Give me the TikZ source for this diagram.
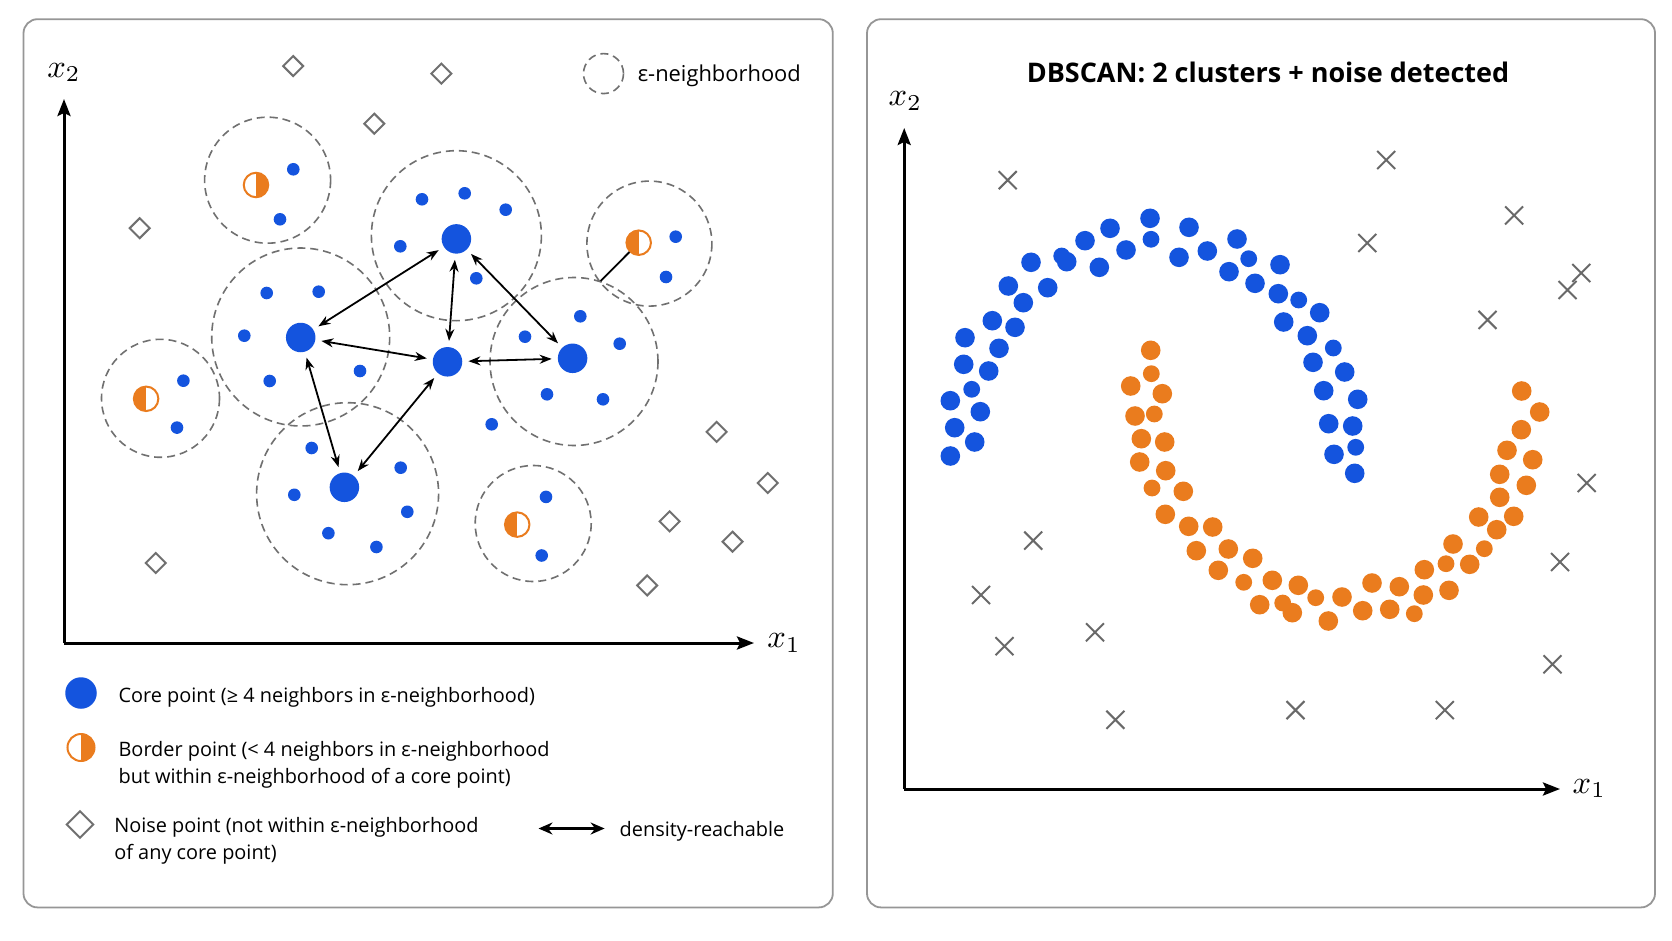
\documentclass[tikz,border=0pt]{standalone}
\usepackage{fontspec}
\setmainfont{Open Sans}
\usetikzlibrary{arrows.meta}
\definecolor{cblue}{RGB}{20,84,222}
\definecolor{corange}{RGB}{234,124,30}
\definecolor{cgray}{RGB}{112,112,112}
\definecolor{xgray}{RGB}{105,105,105}
\definecolor{framec}{RGB}{150,150,150}
\begin{document}
\begin{tikzpicture}[x=1pt,y=-1pt,
  panel/.style={draw=framec, line width=1.8pt, rounded corners=14pt, fill=white},
  axis/.style={line width=3pt, -{Stealth[length=17pt,width=13pt,inset=3pt]}},
  nbhd/.style={draw=cgray, line width=1.6pt, dash pattern=on 8pt off 5pt},
  core/.style={circle, fill=cblue, inner sep=0pt, minimum size=29.5pt},
  bptR/.style={circle, draw=corange, line width=2pt, fill=white, minimum size=24.5pt, inner sep=0pt,
    path picture={\fill[corange] (path picture bounding box.north) rectangle (path picture bounding box.south east);}},
  bptL/.style={circle, draw=corange, line width=2pt, fill=white, minimum size=24.5pt, inner sep=0pt,
    path picture={\fill[corange] (path picture bounding box.north west) rectangle (path picture bounding box.south);}},
  dr/.style={line width=1.8pt, {Stealth[length=12pt,width=9pt]}-{Stealth[length=12pt,width=9pt]}, shorten >=6pt, shorten <=6pt},
  legtext/.style={anchor=west, inner sep=0pt, font=\fontsize{19.9}{27.5}\selectfont, align=left},
  axlabel/.style={inner sep=0pt, font=\fontsize{10}{12}\selectfont, scale=3.25},
  noise/.pic={\draw[cgray, line width=2pt, line join=miter] (-10,0) -- (0,-10) -- (10,0) -- (0,10) -- cycle;},
  xmark/.pic={\draw[xgray, line width=2pt] (-9,-9) -- (9,9) (-9,9) -- (9,-9);}
]
\useasboundingbox (0,0) rectangle (1672,941);

% ---------------- left panel ----------------
\draw[panel] (23.5,19.2) rectangle (832.8,907.4);

% axes
\coordinate (LO) at (64,643);
\coordinate (LY) at (64,99);
\coordinate (LX) at (754,643);
\draw[axis] (LO) -- (LY);
\draw[axis] (LO) -- (LX);
\node[axlabel] (lx2) at (64,72.5) {$x_2$};
\node[axlabel] (lx1) at (784,643) {$x_1$};

% epsilon legend
\draw[nbhd] (603.5,73.6) circle (20);
\node[anchor=west, inner sep=0pt, font=\fontsize{21.9}{25}\selectfont] (epsleg) at (637.6,75.8) {ε-neighborhood};

% neighbourhood circles
\draw[nbhd] (267.6,180.2) circle (63);
\draw[nbhd] (456.4,235.7) circle (85);
\draw[nbhd] (300.7,337) circle (89);
\draw[nbhd] (574,361.5) circle (84);
\draw[nbhd] (347.6,493.7) circle (91);
\draw[nbhd] (649.4,243.6) circle (62.5);
\draw[nbhd] (160.5,398.3) circle (59);
\draw[nbhd] (533.2,523.5) circle (58);

% noise points
\foreach \px/\py in {293.2/66.1, 441.4/73.6, 374.3/123.7, 139.7/228.2, 716.6/431.9,
  767.7/483, 669.6/521.4, 732.6/541.7, 155.7/563, 647.2/585.4}
  \pic at (\px,\py) {noise};

% small blue neighbours
\foreach \px/\py in {293.3/169.3, 280/219.3, 422/199.3, 464.7/193.3, 505.7/209.7,
  400.3/246.3, 476.3/278.3, 266.7/293, 318.7/291.7, 244.3/335.7, 269.7/381, 360/371,
  580.3/316.3, 525/336.7, 619.7/343.7, 547/394.3, 603/399.3, 491.7/424.3,
  311.7/448, 400.7/467.7, 294.3/494.8, 407.3/511.8, 328.4/533.2, 376.4/547,
  675.7/236.7, 666/277, 183.4/380.7, 177/427.6, 546/496.9, 541.7/555.5}
  \fill[cblue] (\px,\py) circle (6.3);

% border points
\node[bptR] (b1) at (256,185) {};
\node[bptL] (b2) at (638.7,242.7) {};
\node[bptL] (b3) at (146.1,398.8) {};
\node[bptL] (b4) at (517.2,524.6) {};
\coordinate (b2e) at (600.7,281);
\draw[line width=1.8pt] (b2) -- (b2e);

% core points
\node[core] (CL) at (300.7,337.5) {};
\node[core] (CT) at (456.4,238.9) {};
\node[core] (CC) at (447.5,361.8) {};
\node[core] (CR) at (572.6,358.3) {};
\node[core] (CB) at (344.4,487.3) {};

% density-reachable arrows
\draw[dr] (CL) -- (CT);
\draw[dr] (CT) -- (CC);
\draw[dr] (CT) -- (CR);
\draw[dr] (CL) -- (CC);
\draw[dr] (CC) -- (CR);
\draw[dr] (CL) -- (CB);
\draw[dr] (CC) -- (CB);

% legend
\node[circle, fill=cblue, inner sep=0pt, minimum width=30pt, minimum height=31.5pt] (lgcore) at (81,693) {};
\node[legtext] (lgcoret) at (118.4,697.2) {Core point (≥ 4 neighbors in ε-neighborhood)};
\node[bptR, minimum size=27pt] (lgbord) at (81,747.5) {};
\node[legtext] (lgbordt) at (118.4,764.6) {Border point (< 4 neighbors in ε-neighborhood\\but within ε-neighborhood of a core point)};
\pic[scale=1.33] at (80,824.5) {noise};
\node[legtext] (lgnoiset) at (114.1,840.7) {Noise point (not within ε-neighborhood\\of any core point)};
\coordinate (lga1) at (538.5,828.5);
\coordinate (lga2) at (604.6,828.5);
\draw[line width=3pt, {Stealth[length=14pt,width=12pt]}-{Stealth[length=14pt,width=12pt]}] (lga1) -- (lga2);
\node[legtext] (lgdr) at (619.5,831) {density-reachable};

% ---------------- right panel ----------------
\draw[panel] (867,19.2) rectangle (1655,907.4);
\node[inner sep=0pt, font=\bfseries\fontsize{27}{31}\selectfont] (title) at (1268,72.5) {DBSCAN: 2 clusters + noise detected};

\coordinate (RO) at (904.2,789);
\coordinate (RY) at (904.2,128);
\coordinate (RX) at (1560,789);
\draw[axis] (RO) -- (RY);
\draw[axis] (RO) -- (RX);
\node[axlabel] (rx2) at (905.3,101.3) {$x_2$};
\node[axlabel] (rx1) at (1589.3,788.5) {$x_1$};

% noise crosses
\foreach \px/\py in {1007.7/180.2, 1386.2/160, 1514.1/215.4, 1367.3/243, 1581.3/273,
  1567.5/290, 1487.5/319.9, 1586.7/483, 1033.2/540.6, 1560/562, 981/595,
  1095/632.3, 1004.5/646.2, 1552.5/664.3, 1115.4/719.8, 1295.5/710.1, 1444.8/710.1}
  \pic at (\px,\py) {xmark};

% blue moon
\foreach \px/\py in {1150/218.3, 1110/228.3, 1126/250, 1085/240.7, 1099.3/267.3,
  1066.7/261.7, 1031/262.3, 1047.7/287.7, 1008.3/286, 1023.3/302.7, 992.3/320.7,
  1015/327.3, 965/337.7, 999/348.3, 963.7/364.3, 988.7/371, 950.3/400.7, 980.3/411.7,
  954.7/427.7, 974.7/442, 950.3/456, 1189/227.3, 1179/257.3, 1207.3/251, 1237/239,
  1229/271.7, 1280/264.7, 1255/283.3, 1278.3/293.7, 1319.7/312.7, 1283.7/322,
  1307.3/335.7, 1313/362.3, 1344.7/372, 1323.7/390.7, 1357.7/399.3, 1328.7/423.7,
  1352.7/426, 1334/454.3, 1354.7/473.3}
  \fill[cblue] (\px,\py) circle (9.8);
\foreach \px/\py in {1151/239.3, 1061.7/256, 971.7/389.3, 1248.7/258.7, 1298.7/300,
  1333.3/348, 1355.7/447.3}
  \fill[cblue] (\px,\py) circle (8.4);

% orange moon
\foreach \px/\py in {1150.7/350.3, 1130.7/386, 1162.3/393.7, 1135/416, 1141.3/438.7,
  1164.7/442, 1139.7/462, 1165.7/470.7, 1183.3/491.3, 1165.3/514.3, 1188.7/526.3,
  1212.7/527, 1196.3/550.7, 1228.3/549, 1252.7/558.3, 1218.3/570.3, 1272.3/580.3,
  1298.3/585.3, 1259.7/604.7, 1292.3/612.7, 1328.3/621, 1342/597, 1372/583,
  1362.7/610.7, 1399.3/586.7, 1389.7/609.3, 1423.3/595, 1424.3/569.7, 1449/590.3,
  1469.7/564.3, 1453/544, 1478.7/517, 1496.7/529.7, 1513.7/516.3, 1499.7/497.3,
  1526.3/485.3, 1499.7/474.3, 1532.7/459.7, 1507/450.3, 1521.3/429.7, 1539.7/412,
  1521.7/391}
  \fill[corange] (\px,\py) circle (9.8);
\foreach \px/\py in {1151.3/373.7, 1154.3/414, 1152/488, 1243.7/582.3, 1282.7/603,
  1315.7/597.7, 1414.3/613.7, 1446/563.7, 1484.3/548.7}
  \fill[corange] (\px,\py) circle (8.4);
\end{tikzpicture}
\end{document}
